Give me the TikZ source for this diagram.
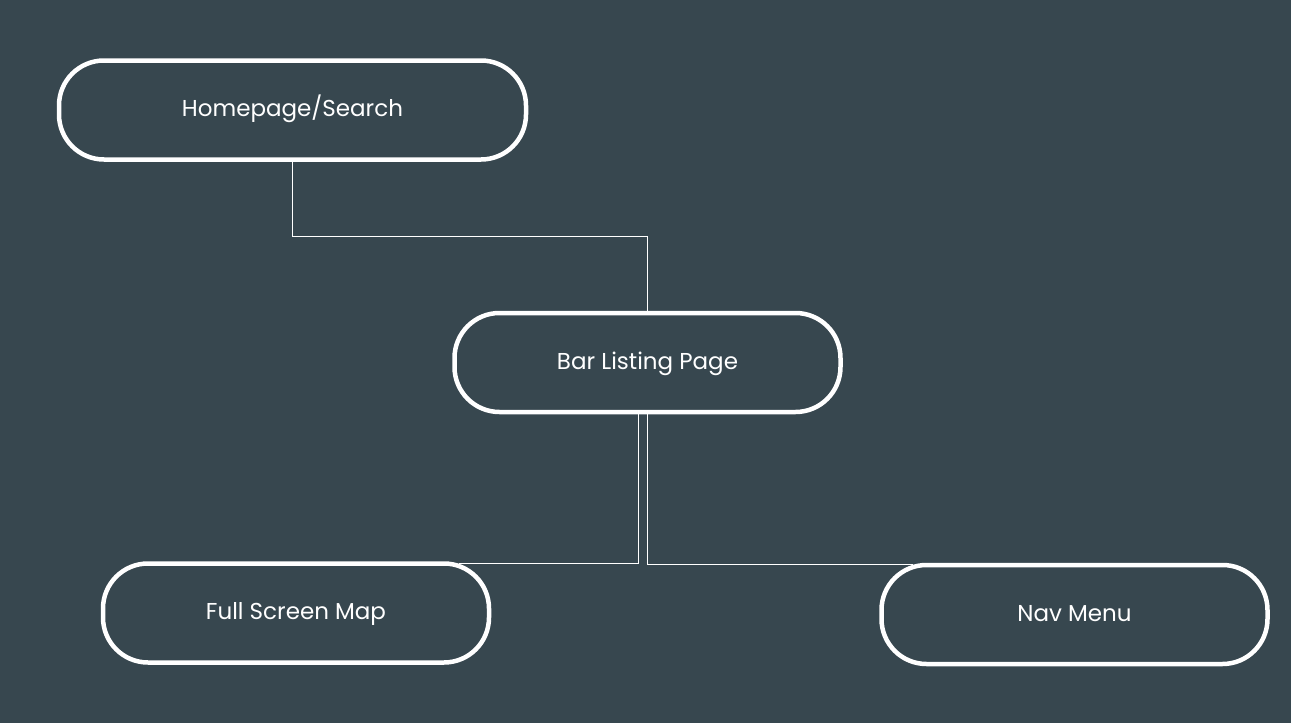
\documentclass[tikz,border=0pt]{standalone}
\usepackage{fontspec}
\setmainfont{Poppins}
\definecolor{slate}{RGB}{55,71,79}
\tikzset{
  page/.style={draw=white, line width=4.5pt, rounded corners=45pt, text=white,
               minimum height=99pt, minimum width=386pt, text height=1.4em, text depth=0.1em,
               font=\fontsize{23}{27}\selectfont},
  link/.style={draw=white, line width=1pt}
}
\begin{document}
\begin{tikzpicture}[x=1pt, y=-1pt]
      \fill[slate] (0, 0) rectangle (1291, 723);
      \useasboundingbox (0, 0) rectangle (1291, 723);
      \node (home) [page, minimum width=467pt] at (292.5, 110) {Homepage/Search};
      \node (bar)  [page] at (647.5, 362.5) {Bar Listing Page};
      \node (map)  [page] at (296, 613) {Full Screen Map};
      \node (nav)  [page] at (1074.5, 614.5) {Nav Menu};
      \coordinate (mid)   at (647.5, 236);
      \coordinate (barl)  at (638, 414);
      \coordinate (mapend) at (459, 563);
      \coordinate (navend) at (913, 564);
      \draw[link] (home.south) |- (mid) -- (bar.north);
      \draw[link] (barl) |- (mapend);
      \draw[link] (bar.south) |- (navend);
\end{tikzpicture}
\end{document}
